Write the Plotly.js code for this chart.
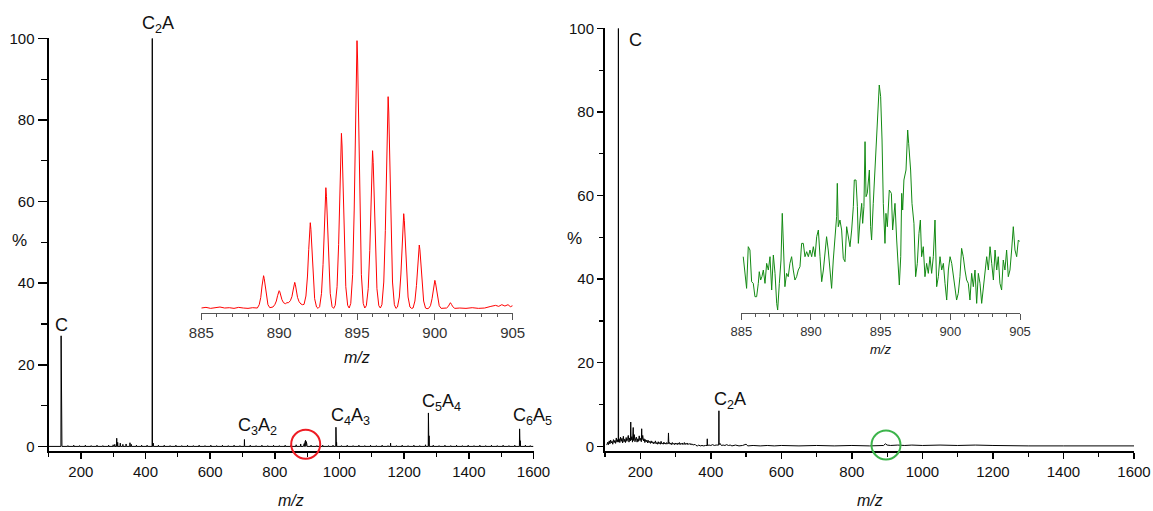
<!DOCTYPE html>
<html>
<head>
<meta charset="utf-8">
<script src="https://cdn.plot.ly/plotly-3.0.1.min.js"></script>
<style>html,body{margin:0;padding:0;background:#fff}#chart{width:1153px;height:511px}</style>
</head>
<body>
<div id="chart"></div>
<script>
// ---------- DATA ----------
// Left main spectrum: stick peaks (m/z, % intensity)
const leftMz = [139,141,160,178,196,214,232,250,268,286,300,305,311,314,322,330,340,352,356,372,388,405,421,424,440,458,476,494,512,530,548,566,584,602,620,638,656,674,692,706,724,742,760,778,796,814,832,850,866,880,889,891,893,895,897,899,912,930,948,966,980,989,991,1006,1024,1042,1060,1078,1096,1114,1132,1150,1158,1176,1194,1212,1230,1248,1266,1275,1277,1290,1308,1326,1344,1362,1380,1398,1416,1434,1452,1470,1488,1506,1524,1542,1557,1559,1575,1590];
const leftInt = [27.1,0.6,0.2,0.3,0.2,0.3,0.2,0.3,0.2,0.3,0.4,0.5,2.0,1.0,0.8,0.5,0.6,0.9,0.5,0.3,0.3,0.3,100,0.8,0.3,0.3,0.2,0.3,0.2,0.3,0.2,0.3,0.2,0.3,0.2,0.3,0.2,0.3,0.2,1.7,0.3,0.2,0.3,0.2,0.3,0.2,0.3,0.3,0.4,0.6,0.4,0.7,1.0,1.5,1.2,0.6,0.3,0.2,0.3,0.2,0.3,4.7,1.0,0.2,0.3,0.2,0.3,0.2,0.3,0.2,0.3,0.2,0.8,0.2,0.3,0.2,0.3,0.2,0.4,8.2,2.6,0.3,0.2,0.3,0.2,0.3,0.2,0.3,0.2,0.3,0.2,0.3,0.2,0.3,0.2,0.3,4.3,1.4,0.3,0.2];

// Right main spectrum: profile (m/z, % intensity)
const rightMz = [
 105,108,110,112,114,116,118,120,122,124,
 126,128,130,132,134,136,137.5,138,138.5,140,
 142,144,146,148,150,152,154,156,158,160,
 162,164,166,168,170,172,173,174,176,178,
 180,181,183,185,187,189,191,193,195,197,
 199,201,203,204,205,207,209,211,213,215,
 217,219,221,223,225,227,229,231,233,235,
 237,239,241,243,245,247,249,251,253,255,
 257,259,261,263,265,267,269,271,273,275,
 277,279,280,281,283,285,287,289,291,293,
 295,297,299,301,303,305,307,309,311,313,
 315,317,319,321,323,325,327,329,331,333,
 335,337,339,341,343,345,347,349,352,355,
 358,362,366,370,375,380,385,389.5,390,390.5,
 395,400,405,410,415,420,422.5,423,423.5,426,
 430,435,440,445,450,455,460,470,480,490,
 500,505,520,540,560,580,600,650,700,750,
 800,850,880,890,895,900,910,930,950,970,
 1000,1050,1100,1150,1200,1250,1300,1400,1500,1600];
const rightInt = [
 0.3,1.0,0.4,1.3,0.6,1.5,0.8,1.2,0.5,1.6,
 0.9,1.4,0.7,2.0,1.0,1.6,1.0,100,1.2,1.8,
 0.9,2.2,1.2,1.9,0.8,2.4,1.1,1.7,0.9,2.1,
 1.2,1.8,2.6,1.0,2.0,1.3,5.8,1.5,2.3,1.0,
 4.5,1.4,2.8,1.1,1.9,2.2,1.0,1.8,1.2,2.5,
 1.4,1.9,1.1,4.2,1.6,2.6,1.3,1.8,0.9,1.6,
 1.1,1.5,0.8,1.4,0.9,1.2,0.7,1.3,0.8,1.1,
 0.6,1.0,0.7,1.3,0.6,0.9,0.5,1.1,0.6,0.9,
 0.5,1.2,0.6,0.8,0.5,1.0,0.6,0.8,0.5,0.9,
 0.6,0.7,3.2,0.6,0.9,0.5,0.8,0.4,0.9,0.5,
 0.7,0.4,0.8,0.5,0.7,0.4,0.8,0.5,0.9,0.4,
 0.7,0.5,0.8,0.4,0.6,0.9,0.4,0.7,0.5,0.8,
 0.4,0.6,0.5,0.7,0.4,0.6,0.3,0.5,0.3,0.5,
 0.2,0.1,0.3,0.1,0.2,0.1,0.2,0.2,1.8,0.2,
 0.3,0.2,0.4,0.2,0.3,0.2,0.3,8.5,0.4,0.7,
 0.2,0.3,0.2,0.4,0.2,0.3,0.1,0.3,0.1,0.2,
 0.5,0.1,0.2,0.1,0.2,0.1,0.2,0.1,0.2,0.1,
 0.2,0.1,0.3,0.2,0.6,0.3,0.2,0.3,0.2,0.3,
 0.2,0.3,0.2,0.3,0.2,0.1,0.1,0.1,0.1,0.1];

// Left inset (red): isotope pattern profile, m/z 885-905 (arbitrary counts)
const redMz = [
 885.0,885.3,885.6,885.9,886.2,886.5,886.8,887.1,887.4,887.7,888.0,888.3,888.5,
 888.6,888.72,888.82,888.9,888.96,889.0,889.04,889.1,889.18,889.28,889.4,889.5,
 889.6,889.72,889.82,889.9,889.96,890.0,890.04,890.1,890.18,890.28,890.4,890.5,
 890.6,890.72,890.82,890.9,890.96,891.0,891.04,891.1,891.18,891.28,891.4,891.5,
 891.6,891.72,891.82,891.9,891.96,892.0,892.04,892.1,892.18,892.28,892.4,892.5,
 892.6,892.72,892.82,892.9,892.96,893.0,893.04,893.1,893.18,893.28,893.4,893.5,
 893.6,893.72,893.82,893.9,893.96,894.0,894.04,894.1,894.18,894.28,894.4,894.5,
 894.6,894.72,894.82,894.9,894.96,895.0,895.04,895.1,895.18,895.28,895.4,895.5,
 895.6,895.72,895.82,895.9,895.96,896.0,896.04,896.1,896.18,896.28,896.4,896.5,
 896.6,896.72,896.82,896.9,896.96,897.0,897.04,897.1,897.18,897.28,897.4,897.5,
 897.6,897.72,897.82,897.9,897.96,898.0,898.04,898.1,898.18,898.28,898.4,898.5,
 898.6,898.72,898.82,898.9,898.96,899.0,899.04,899.1,899.18,899.28,899.4,899.5,
 899.6,899.72,899.82,899.9,899.96,900.0,900.04,900.1,900.18,900.28,900.4,900.6,
 900.75,900.85,900.93,901.0,901.07,901.15,901.28,901.6,
 902.0,902.4,902.8,903.2,903.6,903.9,904.1,904.3,904.5,904.7,904.85,905.0];
const redInt = [
 4,6,3,5,7,4,5,3,6,4,3,5,3,
 4,14,36,70,93,101,93,70,36,14,5,6,
 7,14,25,41,53,56,53,42,29,20,17,20,
 20,26,38,58,75,81,75,55,36,23,16,14,
 15,40,100,180,240,260,240,180,95,32,7,3,
 8,48,135,255,338,365,338,255,135,48,8,3,
 12,68,195,370,490,528,490,370,195,68,12,4,
 18,104,298,566,748,806,748,566,298,104,18,4,
 11,62,176,334,441,476,441,334,176,62,11,4,
 14,82,236,448,592,638,592,448,236,82,14,3,
 7,37,106,201,266,287,266,201,106,37,7,3,
 4,25,72,135,179,193,179,135,72,25,4,2,
 3,11,32,61,80,87,80,61,32,11,3,4,
 4,8,15,20,15,8,3,4,
 3,5,3,4,9,12,9,14,10,14,8,11];

// Right inset (green): noisy profile, m/z 885-905 (arbitrary counts)
const greenMz = [
 885.14,885.26,885.38,885.50,885.62,885.74,885.86,885.98,886.10,886.22,
 886.29,886.39,886.48,886.58,886.70,886.82,886.94,887.06,887.18,887.30,
 887.42,887.54,887.61,887.73,887.85,887.94,888.01,888.13,888.25,888.37,
 888.49,888.61,888.73,888.85,888.97,889.09,889.21,889.33,889.45,889.57,
 889.69,889.81,889.93,890.05,890.17,890.29,890.41,890.53,890.65,890.77,
 890.89,891.00,891.12,891.24,891.36,891.48,891.60,891.72,891.84,891.89,
 891.96,892.08,892.20,892.32,892.44,892.56,892.68,892.80,892.92,893.04,
 893.11,893.23,893.33,893.40,893.52,893.64,893.71,893.80,893.88,893.95,
 894.04,894.19,894.28,894.35,894.47,894.59,894.71,894.83,894.90,895.00,
 895.10,895.19,895.31,895.38,895.48,895.62,895.77,895.86,896.03,896.15,
 896.27,896.34,896.44,896.51,896.58,896.67,896.82,896.94,897.01,897.15,
 897.25,897.39,897.51,897.63,897.75,897.85,897.94,898.06,898.18,898.30,
 898.42,898.54,898.66,898.78,898.90,899.02,899.14,899.26,899.38,899.50,
 899.62,899.74,899.86,899.98,900.10,900.22,900.33,900.45,900.57,900.69,
 900.81,900.93,901.05,901.17,901.29,901.41,901.53,901.65,901.77,901.89,
 902.01,902.13,902.25,902.37,902.49,902.61,902.73,902.85,902.97,903.09,
 903.21,903.33,903.44,903.56,903.68,903.80,903.92,904.04,904.16,904.28,
 904.40,904.52,904.64,904.76,904.88,905.00];
const greenInt = [
 168,118,73,198,188,93,88,48,48,88,
 123,98,108,128,88,148,128,168,68,173,
 118,28,8,88,158,298,188,78,118,108,
 148,168,128,98,108,128,138,208,208,168,
 183,168,188,168,198,168,228,248,168,93,
 128,168,228,188,128,73,158,228,288,388,
 258,278,248,163,153,258,228,198,248,318,
 398,398,318,208,278,328,268,318,513,348,
 358,428,258,218,328,428,528,618,683,648,
 518,328,208,298,258,368,358,248,328,218,
 148,83,168,358,308,398,428,548,508,428,
 328,268,108,148,238,278,168,198,108,148,
 118,168,118,168,278,78,108,168,128,148,
 88,38,128,168,148,108,78,38,58,108,
 193,168,128,98,88,38,118,78,128,28,
 118,88,28,78,108,168,128,198,148,98,
 188,128,168,88,68,158,128,188,108,128,
 188,258,188,168,218,213];

// Tick labels / text
const yTickVals = [0, 20, 40, 60, 80, 100];
const xTickVals = [200, 400, 600, 800, 1000, 1200, 1400, 1600];
const insetTickVals = [885, 890, 895, 900, 905];
const leftLabels = ['C', 'C<sub>2</sub>A', 'C<sub>3</sub>A<sub>2</sub>', 'C<sub>4</sub>A<sub>3</sub>', 'C<sub>5</sub>A<sub>4</sub>', 'C<sub>6</sub>A<sub>5</sub>'];
const rightLabels = ['C', 'C<sub>2</sub>A'];

// ---------- BUILD ----------
const W = 1153, H = 511;
const dx = (a, b) => [a / W, b / W];
const dy = (top, bottom) => [1 - bottom / H, 1 - top / H];
const px = x => x / W;
const py = y => 1 - y / H;

// stick spectrum path for left panel
const lx = [100], ly = [0];
leftMz.forEach((m, i) => { lx.push(m - 0.6, m, m + 0.6); ly.push(0, leftInt[i], 0); });
lx.push(1600); ly.push(0);

const FONT = '"Liberation Sans", Arial, sans-serif';

const traces = [
  {x: lx, y: ly, xaxis: 'x', yaxis: 'y', type: 'scatter', mode: 'lines', line: {color: '#000', width: 1}, hoverinfo: 'skip'},
  {x: rightMz, y: rightInt, xaxis: 'x2', yaxis: 'y2', type: 'scatter', mode: 'lines', line: {color: '#000', width: 1}, hoverinfo: 'skip'},
  {x: redMz, y: redInt, xaxis: 'x3', yaxis: 'y3', type: 'scatter', mode: 'lines', line: {color: '#ff0000', width: 1}, hoverinfo: 'skip'},
  {x: greenMz, y: greenInt, xaxis: 'x4', yaxis: 'y4', type: 'scatter', mode: 'lines', line: {color: '#138a13', width: 1}, hoverinfo: 'skip'}
];

function mainX(domain, anchor, ticklen) {
  return {
    domain: domain, anchor: anchor, range: [100, 1600], tickvals: xTickVals,
    showline: true, linecolor: '#000', linewidth: 2, ticks: 'outside', ticklen: ticklen, tickwidth: 1.5, tickcolor: '#000',
    minor: {dtick: 100, tick0: 0, ticks: 'outside', ticklen: 4, tickwidth: 1.2, tickcolor: '#000'},
    showgrid: false, zeroline: false, tickfont: {family: FONT, size: 15, color: '#111'}, fixedrange: true
  };
}
function mainY(domain, anchor, ticklen) {
  return {
    domain: domain, anchor: anchor, range: [-1, 100], tickvals: yTickVals,
    showline: true, linecolor: '#000', linewidth: 2, ticks: 'outside', ticklen: ticklen, tickwidth: 1.5, tickcolor: '#000',
    minor: {dtick: 10, tick0: 0, ticks: 'outside', ticklen: ticklen * 0.6, tickwidth: 1.2, tickcolor: '#000'},
    showgrid: false, zeroline: false, tickfont: {family: FONT, size: 15, color: '#111'}, fixedrange: true
  };
}
function insetX(domain, anchor, size) {
  return {
    domain: domain, anchor: anchor, range: [885, 905], tickvals: insetTickVals,
    showline: true, linecolor: '#555', linewidth: 1.2, ticks: 'outside', ticklen: 6, tickwidth: 1, tickcolor: '#555',
    minor: {dtick: 1, tick0: 885, ticks: 'outside', ticklen: 3.5, tickwidth: 1, tickcolor: '#555'},
    showgrid: false, zeroline: false, tickfont: {family: FONT, size: size, color: '#333'}, fixedrange: true
  };
}

// circle marker around the m/z ~895 region (paper coords so it is not clipped)
function circle(cx, cy, r, color) {
  return {type: 'circle', xref: 'paper', yref: 'paper', layer: 'above',
    x0: px(cx - r), x1: px(cx + r), y0: py(cy + r), y1: py(cy - r), line: {color: color, width: 2}};
}

const layout = {
  width: W, height: H, margin: {l: 0, r: 0, t: 0, b: 0},
  paper_bgcolor: '#fff', plot_bgcolor: 'rgba(0,0,0,0)', showlegend: false,
  xaxis: mainX(dx(48.5, 533.5), 'y', 6),
  yaxis: mainY(dy(38.3, 450.5), 'x', 9),
  xaxis2: mainX(dx(605, 1134), 'y2', 6),
  yaxis2: mainY(dy(28.3, 450.5), 'x2', 6),
  xaxis3: insetX(dx(201.3, 512.7), 'y3', 15),
  yaxis3: {domain: dy(40, 312.7), anchor: 'x3', range: [-10, 808], visible: false, fixedrange: true},
  xaxis4: insetX(dx(741.3, 1020), 'y4', 13),
  yaxis4: {domain: dy(85, 312.7), anchor: 'x4', range: [0, 683], visible: false, fixedrange: true},
  shapes: [
    circle(305.7, 444.3, 14.5, '#ee1c24'),
    circle(886, 445, 14.5, '#3cb44b')
  ],
  annotations: []
};

function ann(text, x, y, size, italic) {
  layout.annotations.push({
    text: italic ? '<i>' + text + '</i>' : text, xref: 'paper', yref: 'paper', x: px(x), y: py(y),
    xanchor: 'center', yanchor: 'middle', showarrow: false,
    font: {family: FONT, size: size, color: '#111'}
  });
}
// peak labels, left panel
ann(leftLabels[0], 61, 325, 18);
ann(leftLabels[1], 158, 24, 18);
ann(leftLabels[2], 257, 426, 18);
ann(leftLabels[3], 350, 416, 18);
ann(leftLabels[4], 441, 402, 18);
ann(leftLabels[5], 532, 416, 18);
// peak labels, right panel
ann(rightLabels[0], 635, 40, 18);
ann(rightLabels[1], 730, 400, 18);
// axis titles
ann('%', 19, 241, 17);
ann('%', 574, 238, 17);
ann('m/z', 291, 500, 16, true);
ann('m/z', 869.5, 500, 16, true);
ann('m/z', 357, 357, 16, true);
ann('m/z', 880, 349, 13, true);

Plotly.newPlot('chart', traces, layout, {staticPlot: true, displayModeBar: false});
</script>
</body>
</html>
